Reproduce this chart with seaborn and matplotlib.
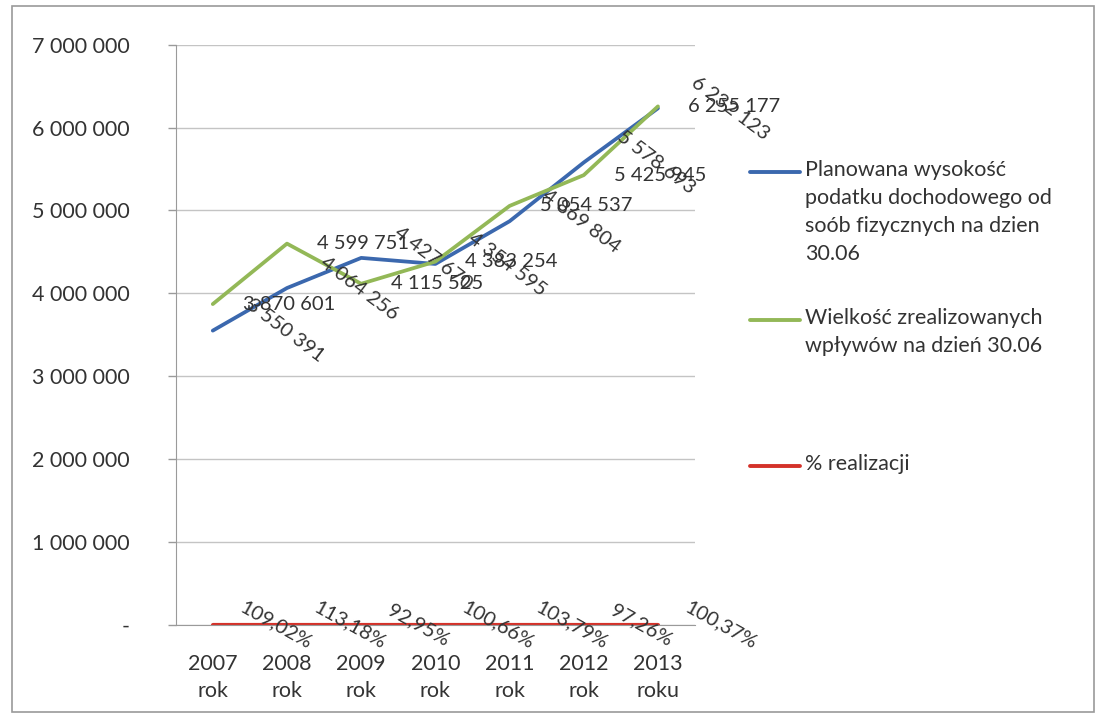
import matplotlib
matplotlib.use("Agg")
import matplotlib.pyplot as plt
import seaborn as sns
import pandas as pd
import numpy as np
from matplotlib.lines import Line2D
from matplotlib.patches import Rectangle
import matplotlib.transforms as mtransforms

years = ["2007\nrok", "2008\nrok", "2009\nrok", "2010\nrok", "2011\nrok", "2012\nrok", "2013\nroku"]
planned = [3550391, 4064256, 4427670, 4354595, 4869804, 5578693, 6232123]
realized = [3870601, 4599751, 4115525, 4383254, 5054537, 5425945, 6255177]
pct_labels = ["109,02%", "113,18%", "92,95%", "100,66%", "103,79%", "97,26%", "100,37%"]
pct_values = [1.0902, 1.1318, 0.9295, 1.0066, 1.0379, 0.9726, 1.0037]

s1 = "Planowana wysokość\npodatku dochodowego od\nsoób fizycznych na dzien\n30.06"
s2 = "Wielkość zrealizowanych\nwpływów na dzień 30.06"
s3 = "% realizacji"

C_BLUE = "#3B68AE"
C_GREEN = "#93B857"
C_RED = "#D4322A"
TXT = "#333333"

sns.set_style("white")
plt.rcParams['font.family'] = ['Lato', 'DejaVu Sans']

def fmt(v):
    return f"{v:,}".replace(",", " ")

df = pd.DataFrame({
    "x": list(range(len(years))) * 3,
    "v": planned + realized + pct_values,
    "s": [s1] * 7 + [s2] * 7 + [s3] * 7,
})

fig = plt.figure(figsize=(11.05, 7.2), dpi=100)
ax = fig.add_axes([0.159, 0.132, 0.470, 0.806])

sns.lineplot(data=df, x="x", y="v", hue="s", palette=[C_BLUE, C_GREEN, C_RED],
             linewidth=2.7, ax=ax, legend=False, sort=False)
ax.lines[2].set_linewidth(3.0)

ax.set_xlim(-0.5, len(years) - 0.5)
ax.set_ylim(0, 7000000)
ax.set_yticks(np.arange(0, 7000001, 1000000))
ax.set_yticklabels(["-"] + [fmt(v) for v in range(1000000, 7000001, 1000000)], fontsize=15.5, color=TXT)
ax.yaxis.grid(True, color="#C4C4C4", linewidth=1)
ax.set_axisbelow(True)
ax.set_xlabel("")
ax.set_ylabel("")

ax.set_xticks(range(len(years)))
ax.set_xticklabels(years, fontsize=15.5, color=TXT, linespacing=1.45)
ax.set_xticks(np.arange(-0.5, len(years), 1), minor=True)
ax.tick_params(axis="x", which="major", length=0, pad=21)
ax.tick_params(axis="x", which="minor", length=6, color="#9A9A9A", width=1)
ax.tick_params(axis="y", length=6, color="#9A9A9A", width=1, pad=27, left=True, direction="out")

for side in ["top", "right"]:
    ax.spines[side].set_visible(False)
ax.spines["left"].set_color("#9A9A9A")
ax.spines["bottom"].set_color("#9A9A9A")

# data labels (Excel style: bounding box to the right of the point, vertically centred)
lab_kw = dict(fontsize=14.5, color=TXT)
for i in range(len(years)):
    off = mtransforms.offset_copy(ax.transData, fig=fig, x=30, y=0, units="dots")
    ax.text(i, realized[i], fmt(realized[i]), transform=off, ha="left", va="center", **lab_kw)
    ax.text(i, planned[i], fmt(planned[i]), transform=off, ha="left", va="center",
            rotation=-37, **lab_kw)
    off3 = mtransforms.offset_copy(ax.transData, fig=fig, x=24, y=0, units="dots")
    ax.text(i, pct_values[i], pct_labels[i], transform=off3, ha="left", va="center",
            rotation=-29, **lab_kw)

# legend
entries = [(s1, C_BLUE, 172), (s2, C_GREEN, 320), (s3, C_RED, 466)]
for txt, col, ypx in entries:
    yf = 1 - ypx / 720
    fig.add_artist(Line2D([750 / 1105, 800 / 1105], [yf, yf], color=col, linewidth=2.8,
                          transform=fig.transFigure))
    fig.text(805 / 1105, 1 - (ypx - 12) / 720, txt, ha="left", va="top", fontsize=15.5, color=TXT,
             linespacing=1.5, transform=fig.transFigure)

# outer border
fig.add_artist(Rectangle((12 / 1105, 8 / 720), 1082 / 1105, 706 / 720, fill=False,
                         edgecolor="#9A9A9A", linewidth=1.2, transform=fig.transFigure))

fig.savefig("out.png", dpi=100)
